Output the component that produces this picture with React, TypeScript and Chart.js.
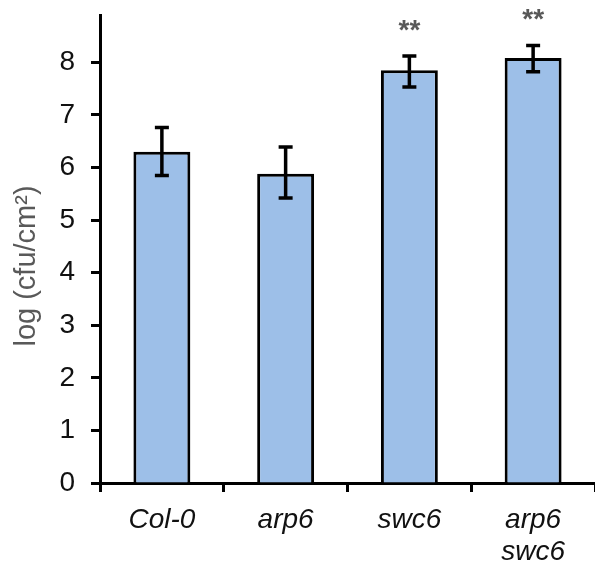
import React, { useEffect, useRef } from "react";
import { Chart, registerables } from "chart.js";

Chart.register(...registerables);

const categories: (string | string[])[] = ["Col-0", "arp6", "swc6", ["arp6", "swc6"]];
const means = [6.3, 5.88, 7.85, 8.08];
const errLow = [5.85, 5.42, 7.53, 7.82];
const errHigh = [6.76, 6.39, 8.12, 8.32];
const significance = ["", "", "**", "**"];
const yTicks = [0, 1, 2, 3, 4, 5, 6, 7, 8];
const yTitle = "log (cfu/cm²)";

const FONT = "'Liberation Sans', Arial, sans-serif";

const extrasPlugin = {
  id: "extras",
  afterDatasetsDraw(chart: any) {
    const ctx = chart.ctx;
    const x = chart.scales.x;
    const y = chart.scales.y;
    ctx.save();
    ctx.strokeStyle = "#000";
    ctx.lineWidth = 3.5;
    for (let i = 0; i < means.length; i++) {
      const cx = x.getPixelForValue(i);
      const yt = y.getPixelForValue(errHigh[i]);
      const yb = y.getPixelForValue(errLow[i]);
      ctx.beginPath();
      ctx.moveTo(cx, yt);
      ctx.lineTo(cx, yb);
      ctx.moveTo(cx - 7, yt);
      ctx.lineTo(cx + 7, yt);
      ctx.moveTo(cx - 7, yb);
      ctx.lineTo(cx + 7, yb);
      ctx.stroke();
      if (significance[i]) {
        ctx.fillStyle = "#595959";
        ctx.font = `bold 28px ${FONT}`;
        ctx.textAlign = "center";
        ctx.textBaseline = "alphabetic";
        ctx.fillText(significance[i], cx, yt - 17);
      }
    }
    // y axis title
    ctx.translate(27, 266);
    ctx.rotate(-Math.PI / 2);
    ctx.fillStyle = "#595959";
    ctx.font = `29px ${FONT}`;
    ctx.textAlign = "center";
    ctx.textBaseline = "middle";
    ctx.fillText(yTitle, 0, 0);
    ctx.restore();
  },
};

export default function App() {
  const ref = useRef<HTMLCanvasElement>(null);
  useEffect(() => {
    const chart = new Chart(ref.current!, {
      type: "bar",
      data: {
        labels: categories as any,
        datasets: [
          {
            data: means,
            backgroundColor: "#9DBFE8",
            borderColor: "#000",
            borderWidth: 3,
            categoryPercentage: 1,
            barPercentage: 0.46,
          },
        ],
      },
      options: {
        animation: false,
        responsive: false,
        devicePixelRatio: 1,
        layout: { padding: { top: 15, right: 0, bottom: 0, left: 0 } },
        plugins: { legend: { display: false }, tooltip: { enabled: false } },
        scales: {
          x: {
            offset: true,
            border: { display: true, width: 3, color: "#000" },
            grid: {
              offset: true,
              drawOnChartArea: false,
              drawTicks: true,
              tickLength: 9,
              tickWidth: 3,
              tickColor: "#000",
            },
            ticks: {
              color: "#111",
              padding: 12,
              font: { family: FONT, size: 28, style: "italic", lineHeight: 1.15 },
              maxRotation: 0,
              autoSkip: false,
            },
            afterFit: (s: any) => {
              s.height = 82;
              s.paddingLeft = 0;
              s.paddingRight = 0;
            },
          },
          y: {
            min: 0,
            max: 8.9,
            afterBuildTicks: (s: any) => {
              s.ticks = yTicks.map((v) => ({ value: v }));
            },
            border: { display: true, width: 3, color: "#000" },
            grid: {
              drawOnChartArea: false,
              drawTicks: true,
              tickLength: 9,
              tickWidth: 3,
              tickColor: "#000",
            },
            ticks: {
              color: "#111",
              padding: 16,
              font: { family: FONT, size: 28 },
            },
            afterFit: (s: any) => {
              s.width = 100;
              s.paddingTop = 0;
              s.paddingBottom = 0;
            },
          },
        },
      },
      plugins: [extrasPlugin],
    });
    return () => chart.destroy();
  }, []);
  return (
    <div style={{ position: "fixed", left: 0, top: 0, width: 595, height: 565, background: "#fff" }}>
      <canvas ref={ref} width={595} height={565} style={{ width: 595, height: 565 }} />
    </div>
  );
}
